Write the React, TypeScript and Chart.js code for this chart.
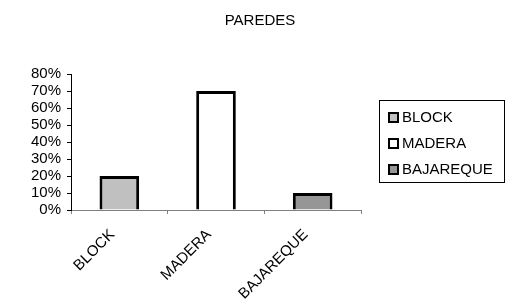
import React, { useEffect, useRef } from "react";
import { Chart, registerables } from "chart.js";

Chart.register(...registerables);

const categories = ["BLOCK", "MADERA", "BAJAREQUE"];
const values = [0.2, 0.7, 0.1];
const colors = ["#c0c0c0", "#ffffff", "#969696"];
const yTicks = [0, 0.1, 0.2, 0.3, 0.4, 0.5, 0.6, 0.7, 0.8];
const titleText = "PAREDES";

const FONT = "'Liberation Sans', Arial, sans-serif";

const titleAndLegend = {
  id: "titleAndLegend",
  afterDraw(chart: any) {
    const ctx = chart.ctx;
    const labels: string[] = chart.data.labels;
    const bg: string[] = chart.data.datasets[0].backgroundColor;
    ctx.save();
    // title
    ctx.font = `15px ${FONT}`;
    ctx.fillStyle = "#000";
    ctx.textAlign = "center";
    ctx.textBaseline = "middle";
    ctx.fillText(titleText, 260, 21);
    // legend box
    ctx.textAlign = "left";
    const x0 = 379.5;
    const y0 = 100.5;
    const w = 125;
    const h = 82;
    ctx.strokeStyle = "#000";
    ctx.lineWidth = 1;
    ctx.strokeRect(x0, y0, w, h);
    labels.forEach((lab, i) => {
      const cy = 117 + i * 26;
      ctx.fillStyle = bg[i];
      ctx.fillRect(389, cy - 4, 9, 9);
      ctx.strokeStyle = "#000";
      ctx.lineWidth = 2;
      ctx.strokeRect(389, cy - 4, 9, 9);
      ctx.fillStyle = "#000";
      ctx.fillText(lab, 402, cy + 1);
    });
    ctx.restore();
  },
};

export default function App() {
  const ref = useRef<HTMLCanvasElement>(null);
  useEffect(() => {
    if (!ref.current) return;
    const chart = new Chart(ref.current, {
      type: "bar",
      data: {
        labels: categories,
        datasets: [
          {
            data: values,
            backgroundColor: colors,
            borderColor: "#000",
            borderWidth: 3,
            barPercentage: 0.41,
            categoryPercentage: 1,
          },
        ],
      },
      options: {
        responsive: false,
        animation: false,
        layout: { padding: { left: 0, right: 145, top: 74, bottom: 0 } },
        plugins: {
          legend: { display: false },
          tooltip: { enabled: false },
          title: { display: false },
        },
        scales: {
          x: {
            grid: {
              drawOnChartArea: false,
              drawTicks: true,
              tickLength: 4,
              color: "#808080",
              offset: true,
            },
            border: { color: "#808080", width: 1 },
            ticks: {
              color: "#000",
              font: { family: FONT, size: 15 },
              minRotation: 45,
              maxRotation: 45,
              autoSkip: false,
              padding: 12,
              labelOffset: -7,
            },
            afterFit(scale: any) {
              scale.height = 93;
            },
          },
          y: {
            min: 0,
            max: 0.8,
            afterBuildTicks(scale: any) {
              scale.ticks = yTicks.map((v) => ({ value: v }));
            },
            grid: {
              drawOnChartArea: false,
              drawTicks: true,
              tickLength: 4,
              color: "#000",
            },
            border: { color: "#000", width: 1 },
            ticks: {
              color: "#000",
              font: { family: FONT, size: 15 },
              padding: 6,
              autoSkip: false,
              callback: (v: any) => `${Math.round(Number(v) * 100)}%`,
            },
            afterFit(scale: any) {
              scale.width = 71;
            },
          },
        },
      },
      plugins: [titleAndLegend],
    });
    return () => chart.destroy();
  }, []);
  return (
    <div style={{ position: "absolute", left: 0, top: 0, width: 506, height: 303, background: "#fff" }}>
      <canvas ref={ref} width={506} height={303} />
    </div>
  );
}
